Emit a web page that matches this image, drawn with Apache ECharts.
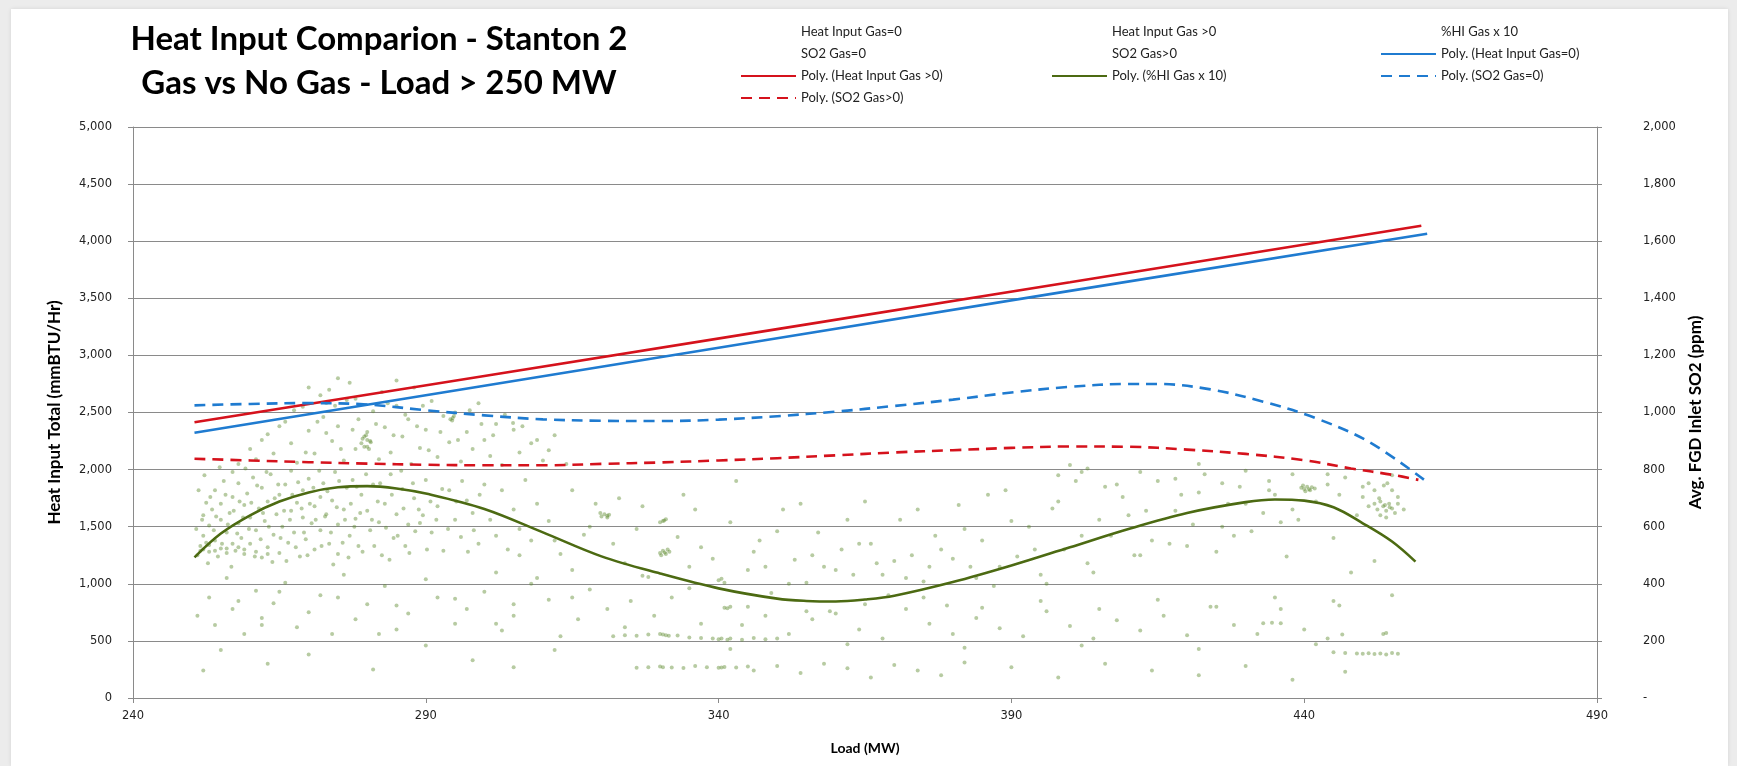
<!DOCTYPE html>
<html><head><meta charset="utf-8">
<script src="https://cdn.jsdelivr.net/npm/echarts@6/dist/echarts.min.js"></script>
<style>
html,body{margin:0;padding:0;background:#ececec;width:1737px;height:766px;overflow:hidden;}
#card{position:absolute;left:11px;top:9px;width:1717px;height:757px;background:#fff;box-shadow:0 0 4px rgba(0,0,0,0.10);}
#chart{position:absolute;left:0;top:0;width:1737px;height:766px;}
</style></head><body><div id="card"></div><div id="chart"></div>
<script>
// ---- trend lines ----
const polyHeat0Load = [250.5, 300, 350, 400, 461];
const polyHeat0Val  = [2322, 2735, 3150, 3565, 4065];
const polyHeat1Load = [250.5, 300, 350, 400, 460];
const polyHeat1Val  = [2414, 2820, 3230, 3640, 4135];
const polyHiLoad = [250.5,255,260,265,270,275,280,285,290,300,310,320,330,340,350,355,360,365,370,380,390,400,410,420,430,435,440,445,450,455,459];
const polyHiVal  = [1232,1440,1600,1720,1800,1845,1855,1835,1790,1655,1450,1240,1090,960,870,850,845,862,895,1015,1160,1320,1480,1620,1715,1738,1728,1670,1530,1370,1194];
const polySo2g0Load = [250.5,260,270,280,290,300,310,320,330,340,350,360,370,380,390,400,410,415,424,433,442,451,460.5];
const polySo2g0Val  = [1025,1030,1033,1028,1008,990,976,971,970,975,987,1003,1023,1045,1070,1090,1100,1100,1081,1038,980,898,764];
const polySo2g1Load = [250.5,260,270,280,290,300,310,320,330,340,350,360,370,380,390,400,410,420,430,440,448,455,459.5];
const polySo2g1Val  = [838,832,826,821,817,815,815,820,825,832,840,850,860,868,876,881,880,870,855,833,804,782,764];

// ---- scatter: %HI Gas x 10 (load MW, value) ----
const hiGasPoints = [
[251,1250],[251.5,1330],[252,1420],[252,1600],[252.5,1710],[253,1280],[253,1510],[253.5,1650],[254,1380],[254,1820],[254.5,1240],[255,1560],[255,1700],[255.5,1900],[256,1310],[256,1450],[256.5,1620],[257,1760],[257,1980],[257.5,1290],[258,1530],[258,1880],[258.5,1400],[259,1690],[259,1260],[259.5,1790],[260,1580],[260,1350],[260.5,1930],[261,1470],[261.5,1660],[262,1230],[262,1840],[262.5,1550],[263,1720],[263,1320],[263.5,1960],[264,1430],[264.5,1610],[265,1780],[265,1270],[265.5,1500],[266,1870],[266.5,1360],[267,1640],[267,1990],[267.5,1450],[268,1710],[268.5,1240],[269,1580],[269,1820],[269.5,1390],[270,1920],[270.5,1530],[271,1680],[271,1300],[272,1760],[272,1470],[272.5,1880],[273,1610],[273.5,1350],[274,1730],[274.5,1980],[275,1520],[275,1260],[276,1650],[276.5,1840],[277,1420],[277.5,1910],[278,1570],[278.5,1330],[279,1780],[280,1640],[280.5,1470],[281,1870],[282,1540],[282.5,1250],[283,1700],[284,1960],[284.5,1400],[285,1610],[286,1830],[286.5,1330],[287,1520],[288,1750],[289,1532],[289.5,1600],[290,1910],[291,1450],[292,1680],[293,1290],[294,1820],[295,1560],[296,1410],[297,1730],[298,1620],[299,1350],[300,1870],
[252,1300],[253,1340],[254,1290],[255,1310],[256,1270],[257,1350],[258,1320],[259,1300],[261,1280],[263,1260],[251.5,1290],[252.5,1360],
[250.8,1480],[251.2,1820],[251.8,1560],[252.2,1950],[252.8,1180],[253.2,1760],[253.8,1470],[254.2,1590],[254.8,2020],[255.2,1350],[255.8,1780],[256.2,1520],[256.8,1150],[257.2,1640],[257.8,1440],[258.2,1720],[258.8,1580],[259.2,2010],[259.8,1480],[260.2,1710],[260.8,1240],[261.2,1860],[261.8,1390],[262.2,1620],[262.8,1980],[263.2,1500],[263.8,1190],[264.2,1750],[264.8,1870],[265.2,1400],[265.8,1640],[266.2,1200],[266.8,1560],[267.2,1780],[267.8,1320],[268.2,1890],[268.8,1660],[269.2,1450],[269.8,1250],[270.2,1700],[270.8,1840],[271.2,1560],[271.8,1990],[272.2,1330],[272.8,1590],[273.2,1810],[273.8,1450],[274.2,1170],[274.8,1670],[275.2,1900],[275.8,1360],[276.2,1560],[276.8,1230],[277.2,1700],[277.8,1500],[278.2,1850],[278.8,1620],[279.2,1280],[279.8,1960],[280.8,1560],[281.2,1330],[281.8,1720],[282.2,1880],[283.2,1490],[283.8,1210],[284.2,1780],[285.2,1420],[285.8,1990],[286.2,1660],[287.2,1270],[287.8,1880],[288.2,1460],[288.8,1650],[290.2,1300],[290.8,1720],[291.8,1560],[292.8,1830],[293.8,1480],[295.2,1720],[296.2,1900],[297.2,1280],[298.2,1470],[299.2,1780],[301,1560],[302,1420],[303,1820],[304,1300],[305,1650],[306,1480],[307,1910],[308,1380],[309,1700],[311,1550],[313,1260],[315,1820],[317,1430],[319,1700],
[258,2050],[260,2180],[261,2090],[263,2310],[264,2140],[266,2420],[267,2230],[268,2060],[269,2550],[270,2340],[271,2140],[272,2650],[272.5,2460],[273,2583],[273.5,2700],[274,2250],[275,2380],[276,2080],[276.5,2610],[277,2760],[278,2180],[278.5,2440],[279,2230],[279.5,2290],[280,2200],[280.5,2250],[280,2330],[281,2510],[282,2090],[282.5,2680],[283,2370],[284,2150],[285,2560],[286,2290],[287,2440],[287.5,2050],[288,2720],[289,2190],[290,2350],[291,2600],[292,2110],[293,2470],[294,2240],[294.6,2452],[295,2500],[296,2070],[297,2330],[298,2180],[299,2580],[300,2260],[301,2120],[302,2400],[304.9,2408],[305,2350],[303,2040],[306,2150],[308,2230],[310,2080],[312,2300],[314,2050],
[262,2260],[265,2380],[267.5,2520],[269.5,2150],[271.5,2420],[273,2320],[274.5,2560],[275.5,2180],[277.5,2350],[278,2620],[281.5,2400],[283.5,2580],[284.5,2300],[286.5,2480],[288.5,2380],[289.5,2560],[290.5,2170],[292.5,2330],[295.5,2260],[297.5,2520],[299.5,2400],[301.5,2300],[303.5,2480],[306.5,2380],[309,2260],[311,2170],[275,2800],[270,2720],[285,2780],
[279.5,2200],[280,2260],[280.3,2180],[279.8,2300],[280.6,2240],[279.2,2270],[294.2,2440],[294.8,2470],[294.5,2430],
[320,1590],[320.5,1610],[321,1580],[321.3,1605],[319.8,1620],[321,1595],
[330,1270],[330.5,1290],[331,1260],[331.3,1300],[330.2,1250],[331.6,1280],[330.8,1275],
[330.5,1550],[331,1565],[330,1540],[330.7,1555],
[340,1030],[341,1010],[340.5,1045],[341,790],[342,800],[341.5,785],
[322,540],[324,550],[326,545],[328,555],[330,560],[331,550],[333,548],[335,530],[337,525],[339,520],[340,515],[342,520],[344,510],[346,525],[348,515],[350,520],[330.5,555],[331.5,545],[340.5,520],[341.5,510],
[326,265],[328,270],[330,275],[332,268],[334,262],[336,280],[338,270],[340,265],[341,272],[343,268],[345,275],[330.5,270],[340.5,268],
[251,720],[253,880],[254,640],[256,1050],[257,780],[259,560],[261,940],[262,700],[264,830],[266,1010],[268,620],[270,750],[272,900],[274,560],[276,1080],[278,690],[280,820],[283,980],[285,600],[287,740],[290,1040],[292,880],[295,650],[297,780],[300,930],[303,590],[305,720],[308,1000],[311,860],[313,540],[316,690],[318,950],[321,780],[324,620],[327,1070],[329,720],[332,880],[335,960],[337,650],
[258,850],[265,930],[275,880],[285,810],[295,870],[305,820],[315,880],[325,850],[345,800],[355,760],[365,820],[375,880],[385,790],[395,850],[405,780],[415,860],[425,800],[435,880],[445,850],[455,900],[262,640],[282,560],[302,650],[342,430],[362,470],[382,440],[402,460],[422,430],[442,470],
[252,240],[255,420],[263,300],[270,380],[281,250],[290,460],[298,330],[305,270],[312,420],
[342,1540],[345,1120],[347,1380],[349,920],[351,1650],[353,1210],[355,1010],[357,1450],[359,760],[361,1300],[363,1080],[365,1720],[367,1180],[369,900],[371,1560],[373,1250],[375,1020],[377,1420],[379,810],[381,1690],[383,1150],[385,1380],[387,980],[389,1820],[391,1240],[393,1500],[395,1080],[397,1660],[399,1300],[401,1900],[403,1180],[405,1560],[407,1420],[409,1760],[411,1250],[413,1640],[415,1900],[417,1350],[419,1780],[421,1520],[423,1960],[425,1280],[427,1700],[429,1850],[431,1460],[433,1620],[435,1780],[437,1240],[439,1560],[445,1400],[448,1100],[452,1200],
[302,1100],[306,1250],[309,1050],[312,1380],[315,1120],[318,1500],[323,1750],[327,1680],[334,1780],[336,1650],[343,1900],[346,1280],[350,1460],[354,1700],[358,1150],[362,1560],[366,1350],[370,1200],[374,1650],[378,1300],[382,1480],[386,1780],[390,1550],[394,1300],[398,1720],[402,1420],[406,1850],[410,1600],[414,1380],[418,1640],[422,1800],[426,1500],[430,1700],[434,1820],[438,1650],[442,1720],[446,1780],[449,1600],[451,1880],[456,1760],[457,1650],[455,1820],[444,1960],[436,1540],[428,1420],[420,1330],[412,1250],[404,1100],[396,1000],[388,1150],[380,1220],[372,1050],[364,1350],[356,1250],[348,1150],[352,1000],[360,1120],[368,1080],[376,1150],[384,1050],
[400,2040],[402,1980],[455,1950],
[322,1350],[324,1180],[326,1480],[328,1060],[333,1410],[335,1150],[337,1320],[339,1220],
[344,640],[348,720],[352,560],[356,690],[360,740],[364,600],[368,520],[372,780],[376,650],[380,560],[384,700],[388,610],[392,540],[396,760],[400,630],[404,520],[408,680],[412,590],[416,720],[420,550],[424,800],[428,640],[432,560],[436,780],[440,600],[444,520],[446,810],
[346,240],[350,280],[354,220],[358,300],[362,260],[366,180],[370,290],[374,240],[378,200],[382,310],[390,270],[398,180],[406,300],[414,240],[422,200],[430,280],[438,160],[447,230],
[440,1830],[440.5,1850],[441,1820],[441.3,1845],[439.8,1860],[440.2,1810],[441.8,1835],[439.5,1840],[440.8,1828],
[452,1700],[452.5,1650],[453,1720],[453.5,1680],[454,1640],[454.5,1700],[455,1660],[453,1600],[454,1580],[452.8,1750],[455.5,1620],[453.6,1860],[454.2,1880],[452,1820],[456,1700],[451,1680],[450,1760],[453.8,1690],[454.6,1670],
[445,400],[447,395],[449,390],[450,388],[451,392],[452,385],[453,390],[454,380],[455,395],[456,388],[454,570],[453.5,560],[446.5,555],
[433,655],[434.5,660],[436,655],
[398,1950],[403,2010],[408,1870],[412,1980],[418,1920],[422,2050],[426,1880],[430,1990],[434,1900],[438,1960],[444,1870],[447,1930],[450,1850]
];
// scatter series that have no visible markers in the original
const heatGas0Points = [];
const heatGas1Points = [];
const so2Gas0Points = [];
const so2Gas1Points = [];

const xMin = 240, xMax = 490, xStep = 50;
const yLeftMax = 5000, yLeftStep = 500;
const yRightMax = 2000, yRightStep = 200;

function pairs(a, b){ return a.map((v,i)=>[v,b[i]]); }
const fmt = v => Number(v).toLocaleString('en-US');

const chart = echarts.init(document.getElementById('chart'), null, {renderer:'canvas'});
const RED = '#d5121c', BLUE = '#1f7bd0', GREEN = '#4c6a12';
const FONT = 'Lato';
const legendText = {fontFamily: FONT, fontSize: 13, color: '#222', lineHeight: 16};
const hidden = {color: 'rgba(0,0,0,0)', borderColor: 'rgba(0,0,0,0)', borderWidth: 0, opacity: 0};
function legendCol(left, names){
  return {orient:'vertical', left:left, top:19, itemWidth:55, itemHeight:12, itemGap:6,
    selectedMode:false, textStyle:legendText,
    data:names.map(n => ({name:n, itemStyle:hidden}))};
}
const gridColor = '#8a8a8a';
chart.setOption({
  animation:false,
  backgroundColor:'transparent',
  graphic:[
    {type:'text', x:379, y:39, style:{text:'Heat Input Comparion - Stanton 2', font:'bold 33px Lato', fill:'#000', textAlign:'center', textVerticalAlign:'middle'}},
    {type:'text', x:379, y:83, style:{text:'Gas vs No Gas - Load > 250 MW', font:'bold 33px Lato', fill:'#000', textAlign:'center', textVerticalAlign:'middle'}}
  ],
  legend:[
    legendCol(735, ['Heat Input Gas=0','SO2 Gas=0','Poly. (Heat Input Gas >0)','Poly. (SO2 Gas>0)']),
    legendCol(1046, ['Heat Input Gas >0','SO2 Gas>0','Poly. (%HI Gas x 10)']),
    legendCol(1375, ['%HI Gas x 10','Poly. (Heat Input Gas=0)','Poly. (SO2 Gas=0)'])
  ],
  grid:{left:133, right:140, top:127, bottom:68, containLabel:false},
  xAxis:{type:'value', min:xMin, max:xMax, interval:xStep,
    name:'Load (MW)', nameLocation:'middle', nameGap:43,
    nameTextStyle:{fontFamily:FONT, fontWeight:'bold', fontSize:14, color:'#000'},
    axisLine:{show:true, lineStyle:{color:gridColor, width:1}},
    axisTick:{show:true, inside:false, length:5, lineStyle:{color:gridColor}},
    axisLabel:{fontFamily:'DejaVu Sans', fontSize:11.5, color:'#222', margin:12},
    splitLine:{show:false}},
  yAxis:[
    {type:'value', min:0, max:yLeftMax, interval:yLeftStep, position:'left',
      name:'Heat Input Total (mmBTU/Hr)', nameLocation:'middle', nameGap:70, nameRotate:90,
      nameTextStyle:{fontFamily:FONT, fontWeight:'bold', fontSize:17, color:'#000'},
      axisLine:{show:true, lineStyle:{color:gridColor, width:1}},
      axisTick:{show:true, inside:false, length:5, lineStyle:{color:gridColor}},
      axisLabel:{fontFamily:'DejaVu Sans', fontSize:11.5, color:'#222', margin:21, formatter:fmt},
      splitLine:{show:true, lineStyle:{color:gridColor, width:1}}},
    {type:'value', min:0, max:yRightMax, interval:yRightStep, position:'right',
      name:'Avg. FGD Inlet SO2 (ppm)', nameLocation:'middle', nameGap:89, nameRotate:90,
      nameTextStyle:{fontFamily:FONT, fontWeight:'bold', fontSize:17, color:'#000'},
      axisLine:{show:true, lineStyle:{color:gridColor, width:1}},
      axisTick:{show:true, inside:false, length:5, lineStyle:{color:gridColor}},
      axisLabel:{fontFamily:'DejaVu Sans', fontSize:11.5, color:'#222', margin:46, formatter:v => v === 0 ? '-' : fmt(v)},
      splitLine:{show:false}}
  ],
  series:[
    {name:'Heat Input Gas=0', type:'scatter', yAxisIndex:0, data:heatGas0Points, symbolSize:3},
    {name:'Heat Input Gas >0', type:'scatter', yAxisIndex:0, data:heatGas1Points, symbolSize:3},
    {name:'%HI Gas x 10', type:'scatter', yAxisIndex:0, data:hiGasPoints, symbolSize:4, z:1,
      itemStyle:{color:'rgba(92,136,44,0.55)'}},
    {name:'SO2 Gas=0', type:'scatter', yAxisIndex:1, data:so2Gas0Points, symbolSize:3},
    {name:'SO2 Gas>0', type:'scatter', yAxisIndex:1, data:so2Gas1Points, symbolSize:3},
    {name:'Poly. (Heat Input Gas=0)', type:'line', yAxisIndex:0, data:pairs(polyHeat0Load, polyHeat0Val), symbol:'none', z:5,
      lineStyle:{color:BLUE, width:2.6}, itemStyle:{color:BLUE}},
    {name:'Poly. (Heat Input Gas >0)', type:'line', yAxisIndex:0, data:pairs(polyHeat1Load, polyHeat1Val), symbol:'none', z:5,
      lineStyle:{color:RED, width:2.6}, itemStyle:{color:RED}},
    {name:'Poly. (%HI Gas x 10)', type:'line', yAxisIndex:0, data:pairs(polyHiLoad, polyHiVal), symbol:'none', smooth:0.35, z:5,
      lineStyle:{color:GREEN, width:2.6}, itemStyle:{color:GREEN}},
    {name:'Poly. (SO2 Gas=0)', type:'line', yAxisIndex:1, data:pairs(polySo2g0Load, polySo2g0Val), symbol:'none', smooth:0.35, z:5,
      lineStyle:{color:BLUE, width:2.6, type:[11,7]}, itemStyle:{color:BLUE}},
    {name:'Poly. (SO2 Gas>0)', type:'line', yAxisIndex:1, data:pairs(polySo2g1Load, polySo2g1Val), symbol:'none', smooth:0.35, z:5,
      lineStyle:{color:RED, width:2.6, type:[11,7]}, itemStyle:{color:RED}}
  ]
});
</script></body></html>
